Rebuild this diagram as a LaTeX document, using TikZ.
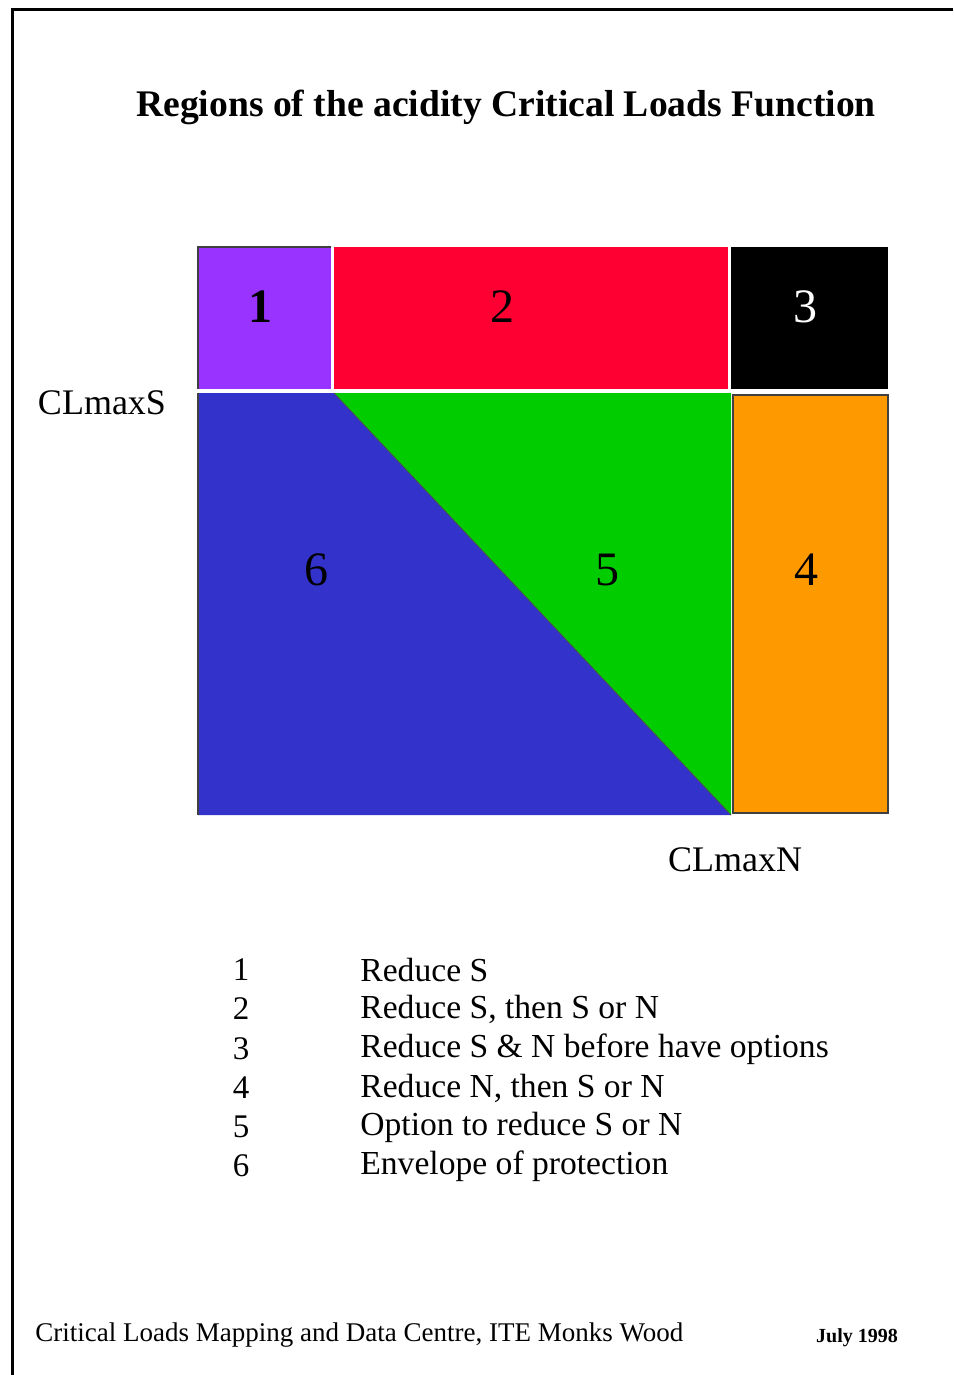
\documentclass[tikz,border=0pt]{standalone}
\usepackage{fontspec}
\setmainfont{Liberation Serif}
\usetikzlibrary{positioning}
\definecolor{RegPurple}{HTML}{9933FF}
\definecolor{RegRed}{HTML}{FF0033}
\definecolor{RegBlue}{HTML}{3333CC}
\definecolor{RegGreen}{HTML}{00CC00}
\definecolor{RegOrange}{HTML}{FF9900}
\newcommand{\legrow}[3]{%
  \node[legnum] (n#1) at (241,#2) {#1};
  \node[legtxt] (t#1) at (360,#2) {#3};}

\begin{document}
\begin{tikzpicture}[x=0.5pt,y=-0.5pt,
  region/.style={draw=black!75, line width=0.6pt},
  num/.style={font=\fontsize{24}{28}\selectfont},
  axlab/.style={font=\fontsize{18}{22}\selectfont},
  legnum/.style={font=\fontsize{16.5}{20}\selectfont},
  legtxt/.style={font=\fontsize{16.8}{20}\selectfont, anchor=west, inner sep=0pt}]
  \useasboundingbox (0,0) rectangle (953,1375);
  % page frame
  \draw[line width=1.5pt] (12,1375) -- (12,10) -- (953,10);
  \node[font=\bfseries\fontsize{18.8}{22}\selectfont] (title) at (506,107)
    {Regions of the acidity Critical Loads Function};
  % top row
  \fill[RegPurple] (198,247) rectangle (331,389);
  \draw[region] (331,247) -- (198,247) -- (198,389);
  \fill[RegRed] (334,247) rectangle (728,389);
  \fill[black] (731,247) rectangle (888,389);
  % lower part
  \fill[RegBlue] (198,393) -- (334,393) -- (731,815) -- (198,815) -- cycle;
  \fill[RegGreen] (334,393) -- (731,393) -- (731,815) -- cycle;
  \draw[black!70, line width=0.4pt] (334,393) -- (731,815);
  \draw[region] (198,393) -- (198,815);
  \fill[RegOrange] (733,395) rectangle (888,813);
  \draw[region] (733,395) rectangle (888,813);
  % region numbers
  \node[num, font=\bfseries\fontsize{24}{28}\selectfont] (r1) at (260,307) {1};
  \node[num] (r2) at (502,307) {2};
  \node[num, white] (r3) at (805,307) {3};
  \node[num] (r4) at (806,570) {4};
  \node[num] (r5) at (607,570) {5};
  \node[num] (r6) at (316,570) {6};
  % axis labels
  \node[axlab] (smax) at (102,403) {CLmaxS};
  \node[axlab] (nmax) at (735,860) {CLmaxN};
  % legend
  \legrow{1}{970}{Reduce S}
  \legrow{2}{1009}{Reduce S, then S or N}
  \legrow{3}{1049}{Reduce S \& N before have options}
  \legrow{4}{1088}{Reduce N, then S or N}
  \legrow{5}{1127}{Option to reduce S or N}
  \legrow{6}{1166}{Envelope of protection}
  % footer
  \node[font=\fontsize{13.5}{16}\selectfont, anchor=west, inner sep=0pt] (src) at (35,1335)
    {Critical Loads Mapping and Data Centre, ITE Monks Wood};
  \node[font=\bfseries\fontsize{10}{12}\selectfont] (date) at (857,1338) {July 1998};
\end{tikzpicture}
\end{document}
